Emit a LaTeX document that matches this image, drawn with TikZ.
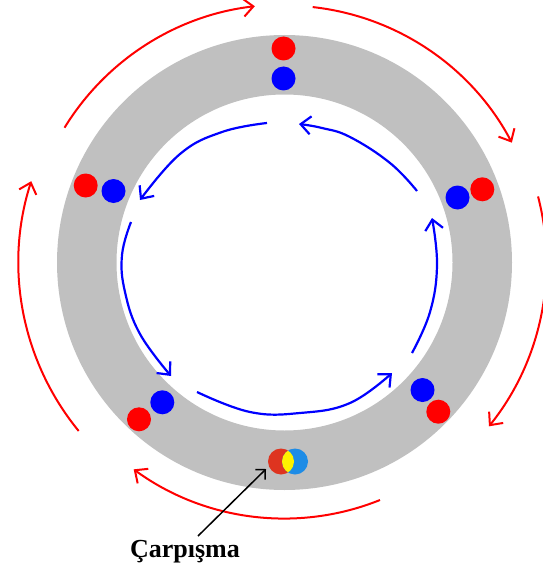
\documentclass[tikz,border=0pt]{standalone}
\usepackage{fontspec}
\setmainfont{Liberation Serif}
\usetikzlibrary{arrows.meta}
\definecolor{ringgray}{RGB}{192,192,192}
\definecolor{cred}{RGB}{222,52,32}
\definecolor{cblue}{RGB}{30,140,230}
\begin{document}
\begin{tikzpicture}[x=1pt,y=-1pt,
  redarc/.style={draw=red, line width=2pt, -{Straight Barb[length=10pt,width=18pt,line width=2pt]}},
  bluearc/.style={draw=blue, line width=2.2pt, -{Straight Barb[length=10pt,width=18pt,line width=2.2pt]}},
  redball/.style={fill=red},
  blueball/.style={fill=blue},
  hitarrow/.style={draw=black, line width=1.5pt, -{Straight Barb[length=7pt,width=14pt,line width=1.5pt]}},
  lbltext/.style={font=\bfseries\fontsize{26}{30}\selectfont, anchor=base, inner sep=0pt}]
\useasboundingbox (0,0) rectangle (542,572);
\coordinate (C) at (284.5,262.5);
% ring
\fill[ringgray, even odd rule] (C) circle[radius=227.5pt] (C) circle[radius=168pt];
% outer red arcs (clockwise)
\draw[redarc] ([shift={(148.5:258pt)}]C) arc[start angle=148.5, end angle=96.6, radius=258pt];
\draw[redarc] ([shift={(83.7:257pt)}]C) arc[start angle=83.7, end angle=27.8, radius=257pt];
\draw[redarc] ([shift={(14.6:262pt)}]C) arc[start angle=14.6, end angle=-38.7, radius=262pt];
\draw[redarc] ([shift={(-68.1:256pt)}]C) arc[start angle=-68.1, end angle=-126.1, radius=256pt];
\draw[redarc] ([shift={(-140.7:266pt)}]C) arc[start angle=-140.7, end angle=-197.8, radius=266pt];
% inner blue arcs (counter-clockwise)
\draw[bluearc] plot[smooth, tension=0.7] coordinates {(267,123) (222,132) (180,154) (140,200)};
\draw[bluearc] plot[smooth, tension=0.7] coordinates {(131,222) (122,255) (125,292) (140,334) (171,376)};
\draw[bluearc] plot[smooth, tension=0.7] coordinates {(197,392) (250,412) (300,413) (350,403) (392,373)};
\draw[bluearc] plot[smooth, tension=0.7] coordinates {(412,353) (430,312) (437,265) (432,218)};
\draw[bluearc] plot[smooth, tension=0.7] coordinates {(417,191) (390,163) (350,137) (322,128) (299,124)};
% balls
\fill[redball] (283.5,48.5) circle[radius=12pt];
\fill[blueball] (283.5,78.5) circle[radius=12pt];
\fill[redball] (85.7,185.5) circle[radius=12pt];
\fill[blueball] (113.5,191) circle[radius=12pt];
\fill[blueball] (457.5,197.5) circle[radius=12pt];
\fill[redball] (482.3,189.3) circle[radius=12pt];
\fill[blueball] (162.3,402.3) circle[radius=12pt];
\fill[redball] (139,419.3) circle[radius=12pt];
\fill[blueball] (422.5,390) circle[radius=12pt];
\fill[redball] (438.3,411.7) circle[radius=12pt];
% collision
\fill[cred] (281,461.5) circle[radius=13pt];
\fill[cblue] (295,461.5) circle[radius=13pt];
\begin{scope}
  \clip (281,461.5) circle[radius=13pt];
  \fill[yellow] (295,461.5) circle[radius=13pt];
\end{scope}
% label and arrow
\node[lbltext] (lbl) at (185,557) {Çarpışma};
\coordinate (tail) at (198,536);
\coordinate (hit) at (266,469);
\draw[hitarrow] (tail) -- (hit);
\end{tikzpicture}
\end{document}
